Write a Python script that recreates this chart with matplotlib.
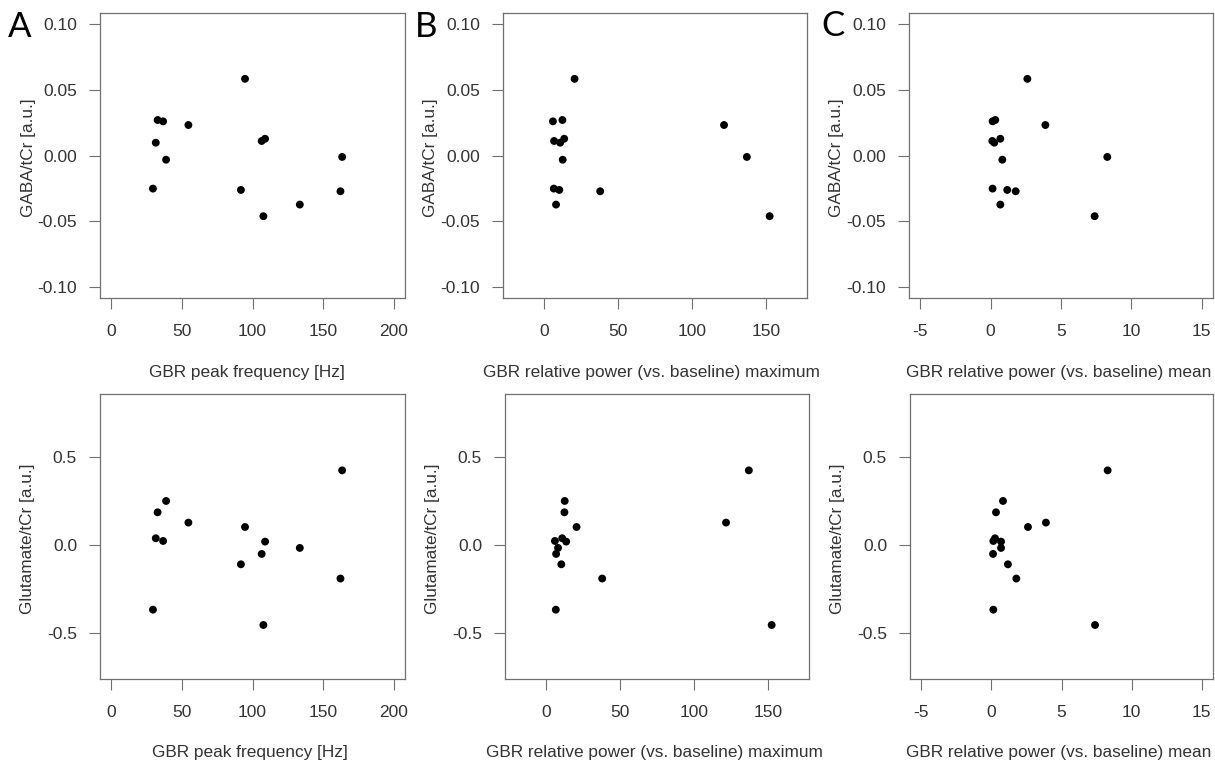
import matplotlib
matplotlib.use("Agg")
import matplotlib.pyplot as plt

plt.rcParams['font.family'] = ['Liberation Sans', 'DejaVu Sans']
plt.rcParams['axes.unicode_minus'] = False

# one value per subject (14 subjects)
peak_freq = [29.5, 31.5, 32.8, 36.7, 38.8, 54.6, 91.8, 94.7, 106.5, 108.9, 107.7, 133.5, 163.5, 162.3]
power_max = [6.7, 11.0, 12.5, 6.1, 12.7, 121.6, 10.4, 20.7, 6.9, 13.7, 152.4, 8.2, 137.0, 38.0]
power_mean = [0.14, 0.26, 0.33, 0.14, 0.83, 3.89, 1.18, 2.61, 0.12, 0.69, 7.39, 0.69, 8.29, 1.78]
gaba = [-0.0251, 0.0097, 0.0269, 0.0259, -0.0032, 0.0231, -0.0261, 0.0581, 0.0110, 0.0127,
        -0.0460, -0.0372, -0.0011, -0.0271]
glu = [-0.366, 0.040, 0.1875, 0.0246, 0.252, 0.129, -0.108, 0.104, -0.049, 0.021,
       -0.453, -0.015, 0.426, -0.189]

x_labels = ['GBR peak frequency [Hz]',
            'GBR relative power (vs. baseline) maximum',
            'GBR relative power (vs. baseline) mean']
y_labels = ['GABA/tCr [a.u.]', 'Glutamate/tCr [a.u.]']
letters = ['A', 'B', 'C']

x_lims = [(0, 200), (-20, 170), (-5, 15)]
x_ticks = [[0, 50, 100, 150, 200], [0, 50, 100, 150], [-5, 0, 5, 10, 15]]
y_lims = [(-0.1, 0.1), (-0.7, 0.8)]
y_ticks = [[-0.10, -0.05, 0.00, 0.05, 0.10], [-0.5, 0.0, 0.5]]
y_fmt = ['%.2f', '%.1f']

W, H = 1215, 763
fig = plt.figure(figsize=(W / 100, H / 100), dpi=100)

# axes boxes in pixels: (left, right, top, bottom)
boxes = [[(100, 405, 13, 298), (503, 807, 13, 298), (909, 1213, 13, 298)],
         [(100, 405, 394, 679), (505, 809, 394, 679), (910, 1213, 394, 679)]]
xlab_cx = [[247, 651, 1059], [250, 654, 1059]]
letter_pos = [(20, 27), (426, 27), (833, 26)]

xs = [peak_freq, power_max, power_mean]
ys = [gaba, glu]
grey = '#707070'


def r_lim(lo, hi):
    d = (hi - lo) * 0.04
    return lo - d, hi + d


for row in range(2):
    for col in range(3):
        l, r, t, b = boxes[row][col]
        ax = fig.add_axes([l / W, 1 - b / H, (r - l) / W, (b - t) / H])
        ax.scatter(xs[col], ys[row], s=32, color='black', edgecolors='none', zorder=3)
        ax.set_xlim(*r_lim(*x_lims[col]))
        ax.set_ylim(*r_lim(*y_lims[row]))
        ax.set_xticks(x_ticks[col])
        ax.set_xticklabels([str(v) for v in x_ticks[col]])
        ax.set_yticks(y_ticks[row])
        ax.set_yticklabels([y_fmt[row] % v for v in y_ticks[row]])
        for s in ax.spines.values():
            s.set_color(grey)
            s.set_linewidth(0.9)
        ax.tick_params(axis='both', direction='out', length=8, width=0.8,
                       color=grey, labelsize=12.5, labelcolor='#333333')
        ax.tick_params(axis='x', pad=10.5)
        ax.tick_params(axis='y', pad=8.5)

        fig.text(xlab_cx[row][col] / W, 1 - (b + 74) / H, x_labels[col],
                 ha='center', va='center', fontsize=12.4, color='#333333')
        fig.text((l - 72) / W, 1 - ((t + b) / 2 + 2) / H, y_labels[row],
                 ha='center', va='center', rotation=90, fontsize=12.4, color='#333333')

for (lx, ly), s in zip(letter_pos, letters):
    fig.text(lx / W, 1 - ly / H, s, ha='center', va='center', fontsize=25,
             family=['Lato', 'DejaVu Sans'], color='black')

fig.savefig('out.png', dpi=100)
